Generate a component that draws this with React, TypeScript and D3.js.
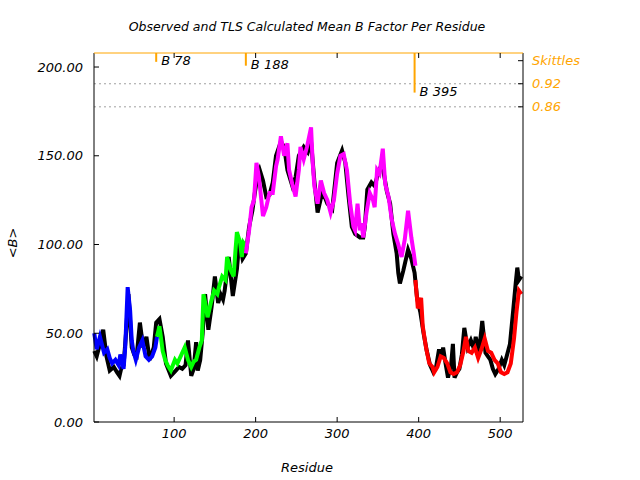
import React from "react";
import * as d3 from "d3";

// [residue, mean B]
const observedB: [number, number][] = [
  [2,40],[5,37],[9,44],[13,52],[17,37],[21,29],[26,31],[30,28],[33,26],[35,30],[38,32],[41,50],[44,72],[48,42],[51,38],[54,37],[58,56],[62,42],[66,48],[70,35],[75,42],[78,56],
  [82,58],[86,48],[90,33],[96,26],[102,29],[106,31],[110,30],[114,32],[117,46],[121,26],[124,30],[127,45],[129,29],[132,35],[135,50],[138,72],[142,52],[146,65],[150,82],[154,67],[157,72],[160,69],[162,74],[167,93],[172,71],[175,80],[177,86],[180,102],[184,92],
  [188,95],[192,110],[196,119],[199,129],[202,138],[205,142],[209,136],[213,127],[217,128],[221,135],[225,150],[231,158],[235,155],[239,142],[245,133],[249,138],[253,150],[259,155],[264,152],[268,158],[272,136],[276,118],[282,130],[288,123],[294,120],[300,146],[306,153],[310,146],[314,127],[318,110],[322,106],[328,104],[332,104],[334,110],[337,131],[342,135],[346,133],[349,138],[355,146],[361,130],[365,123],[369,106],[373,95],[375,84],[377,78],[381,85],[387,97],[391,92],[395,84],
  [398,70],[402,62],[406,50],[410,40],[414,32],[418,28],[421,30],[425,41],[428,36],[430,42],[433,33],[436,25],[440,33],[442,44],[444,25],[447,28],[450,30],[453,38],[456,53],[460,42],[464,46],[468,41],[470,48],[474,39],[478,57],[482,39],[485,37],[488,35],[491,30],[494,27],[498,30],[502,35],[505,32],[508,37],[512,44],[516,63],[519,78],[521,87],[523,80],[526,82]
];

const tlsBlue: [number, number][] = [
  [2,50],[5,41],[9,48],[14,39],[18,41],[21,36],[24,33],[28,35],[32,32],[34,38],[38,30],[40,42],[43,76],[46,63],[48,46],[50,40],[53,35],[57,42],[61,46],[65,37],[69,35],[73,37],[77,42],[79,48]
];
const tlsGreen: [number, number][] = [
  [79,48],[82,54],[86,40],[89,35],[92,32],[96,29],[101,35],[104,33],[108,37],[113,42],[117,35],[121,31],[124,34],[127,35],[131,42],[134,46],[136,72],[139,65],[141,59],[145,67],[149,74],[153,72],[155,76],[159,82],[163,80],[165,93],[169,86],[173,82],[175,95],[177,107],[181,101],[183,93],[185,101],[188,99]
];
const tlsMagenta: [number, number][] = [
  [188,95],[192,108],[195,121],[198,125],[201,146],[204,138],[207,125],[209,116],[213,121],[217,129],[221,129],[225,144],[227,148],[231,161],[235,150],[239,157],[241,142],[245,134],[249,127],[253,142],[255,155],[259,148],[263,155],[268,166],[270,146],[272,133],[276,123],[280,136],[284,129],[288,125],[292,118],[296,125],[300,140],[304,150],[308,151],[312,142],[316,123],[320,110],[322,108],[325,123],[328,108],[330,112],[332,104],[336,118],[340,129],[344,125],[346,121],[349,142],[352,140],[356,154],[359,134],[363,127],[367,114],[371,106],[375,100],[379,93],[383,103],[387,119],[391,104],[394,95],[396,88]
];
const tlsRed: [number, number][] = [
  [396,80],[399,64],[403,70],[405,54],[409,42],[413,33],[417,31],[419,28],[423,31],[427,37],[431,36],[435,33],[439,28],[443,27],[447,28],[451,32],[455,40],[458,48],[461,40],[465,39],[469,42],[473,36],[477,41],[481,47],[485,40],[489,39],[493,35],[497,33],[501,28],[505,27],[509,28],[513,33],[517,47],[520,62],[523,74],[526,72]
];

const segments = [
  { data: tlsBlue, color: "#0000ff" },
  { data: tlsGreen, color: "#00ff00" },
  { data: tlsMagenta, color: "#ff00ff" },
  { data: tlsRed, color: "#ff0000" }
];

const markers = [
  { residue: 78, label: "B 78", skittles: 0.977 },
  { residue: 188, label: "B 188", skittles: 0.967 },
  { residue: 395, label: "B 395", skittles: 0.897 }
];

const yTicks = [0, 50, 100, 150, 200];
const xTicks = [100, 200, 300, 400, 500];
const skittlesTicks = [
  { v: 0.98, label: "Skittles" },
  { v: 0.92, label: "0.92" },
  { v: 0.86, label: "0.86" }
];
const skittlesLines = [0.92, 0.86];

const W = 640, H = 480;
const M = { left: 94, right: 523, top: 53, bottom: 422 };
const FONT = "DejaVu Sans, Verdana, sans-serif";
const ORANGE = "#ffa500";

export default function App() {
  const x = d3.scaleLinear().domain([1.7, 528]).range([M.left, M.right]);
  const y = d3.scaleLinear().domain([0, 207.9]).range([M.bottom, M.top]);
  const y2 = d3.scaleLinear().domain([0.04, 1.0]).range([M.bottom, M.top]);
  const line = d3.line<[number, number]>().x((d) => x(d[0])).y((d) => y(d[1]));
  const tick = 5;

  return (
    <svg width={W} height={H} style={{ position: "absolute", left: 0, top: 0, background: "#fff" }} fontFamily={FONT}>
      <rect width={W} height={H} fill="#fff" />
      <text x={307} y={31} textAnchor="middle" fontSize={12.5} fontStyle="italic">
        Observed and TLS Calculated Mean B Factor Per Residue
      </text>

      {/* skittles grid lines */}
      {skittlesLines.map((v) => (
        <line key={v} x1={M.left} x2={M.right} y1={y2(v)} y2={y2(v)} stroke="#a0a0a0" strokeDasharray="2,3" />
      ))}

      {/* data: observed first, TLS calculated segments on top */}
      <path d={line(observedB) ?? ""} fill="none" stroke="#000" strokeWidth={4} />
      {segments.map((s, i) => (
        <path key={i} d={line(s.data) ?? ""} fill="none" stroke={s.color} strokeWidth={4} />
      ))}

      {/* frame */}
      <line x1={M.left} x2={M.left} y1={M.top} y2={M.bottom} stroke="#000" />
      <line x1={M.right} x2={M.right} y1={M.top} y2={M.bottom} stroke="#000" />
      <line x1={M.left} x2={M.right} y1={M.bottom} y2={M.bottom} stroke="#000" />
      <line x1={M.left} x2={M.right} y1={M.top} y2={M.top} stroke={ORANGE} />

      {/* y axis */}
      {yTicks.map((t) => (
        <g key={t}>
          <line x1={M.left} x2={M.left + tick} y1={y(t)} y2={y(t)} stroke="#000" />
          <text x={83} y={y(t)} dy="0.35em" textAnchor="end" fontSize={13} fontStyle="italic">
            {t.toFixed(2)}
          </text>
        </g>
      ))}
      <text transform={`translate(17,243) rotate(-90)`} textAnchor="middle" fontSize={13} fontStyle="italic">
        {"<B>"}
      </text>

      {/* x axis */}
      {xTicks.map((t) => (
        <g key={t}>
          <line x1={x(t)} x2={x(t)} y1={M.bottom} y2={M.bottom - tick} stroke="#000" />
          <line x1={x(t)} x2={x(t)} y1={M.top} y2={M.top + tick} stroke="#000" />
          <text x={x(t)} y={438} textAnchor="middle" fontSize={13} fontStyle="italic">
            {t}
          </text>
        </g>
      ))}
      <text x={307} y={472} textAnchor="middle" fontSize={13} fontStyle="italic">
        Residue
      </text>

      {/* skittles axis */}
      {skittlesTicks.map((t) => (
        <g key={t.label}>
          <line x1={M.right - tick} x2={M.right} y1={y2(t.v)} y2={y2(t.v)} stroke="#000" />
          <text x={532} y={y2(t.v)} dy="0.35em" fontSize={13} fontStyle="italic" fill={ORANGE}>
            {t.label}
          </text>
        </g>
      ))}

      {/* marker impulses */}
      {markers.map((m) => (
        <g key={m.label}>
          <line x1={x(m.residue)} x2={x(m.residue)} y1={y2(1.0)} y2={y2(m.skittles)} stroke={ORANGE} strokeWidth={2} />
          <text x={x(m.residue) + 5} y={y2(m.skittles) - 1} dy="0.35em" fontSize={13} fontStyle="italic">
            {m.label}
          </text>
        </g>
      ))}
    </svg>
  );
}
